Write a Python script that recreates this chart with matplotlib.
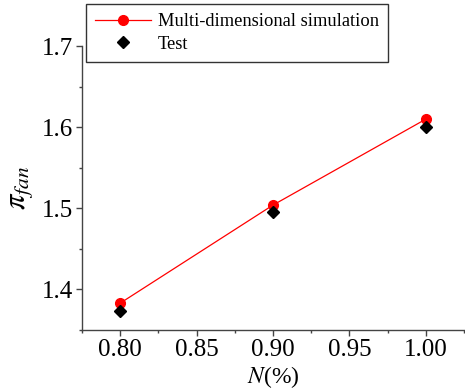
import numpy as np
import matplotlib
matplotlib.use('Agg')
import matplotlib.pyplot as plt
from matplotlib.ticker import MultipleLocator

params = {'font.family': 'serif',
          'font.serif': ['Liberation Serif'],
          'mathtext.fontset': 'stix',
          'axes.linewidth': 1.0}
plt.rcParams.update(params)

speed = [0.80, 0.90, 1.00]
sim_pi = [1.383, 1.504, 1.610]
test_pi = [1.374, 1.495, 1.600]

fig = plt.figure(figsize=(4.65, 3.91), dpi=100)
ax = fig.add_axes([0.176, 0.156, 0.822, 0.726])

ax.plot(speed, sim_pi, color='red', lw=0.9, marker='o', ms=7,
        label='Multi-dimensional simulation', zorder=3)
ax.plot(speed, test_pi, ls='none', color='black', marker='D', ms=6,
        label='Test', zorder=4)

ax.set_xlim(0.775, 1.025)
ax.set_ylim(1.35, 1.70)
ax.xaxis.set_major_locator(MultipleLocator(0.05))
ax.xaxis.set_minor_locator(MultipleLocator(0.025))
ax.yaxis.set_major_locator(MultipleLocator(0.1))
ax.yaxis.set_minor_locator(MultipleLocator(0.05))
ax.xaxis.set_major_formatter(plt.FormatStrFormatter('%.2f'))
ax.yaxis.set_major_formatter(plt.FormatStrFormatter('%.1f'))

for s in ['top', 'right']:
    ax.spines[s].set_visible(False)
for s in ['left', 'bottom']:
    ax.spines[s].set_color('#444444')
ax.tick_params(which='major', direction='out', length=4.5, width=1, color='#444444',
               pad=2, labelsize=18)
ax.tick_params(which='minor', direction='out', length=2.5, width=1, color='#444444')

ax.set_xlabel(r'$\mathit{N}$(%)', fontsize=17, labelpad=2)
ax.set_ylabel(r'$\pi_{fan}$', fontsize=22, labelpad=5)

leg = fig.legend(loc='upper left', bbox_to_anchor=(0.185, 0.99), fontsize=13.3,
                 frameon=True, fancybox=False, edgecolor='black', borderaxespad=0,
                 handlelength=3.0, borderpad=0.5, labelspacing=0.3, handletextpad=0.4)
leg.get_frame().set_linewidth(1.0)

fig.savefig('out.png', dpi=100)
